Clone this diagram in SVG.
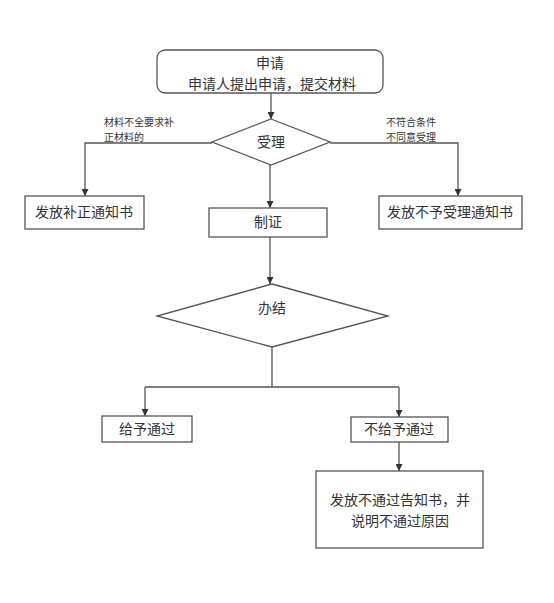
<svg xmlns="http://www.w3.org/2000/svg" width="554" height="603" viewBox="0 0 554 603">
<style>
.s{fill:#fff;stroke:#555;stroke-width:1.3}
.l{fill:none;stroke:#555;stroke-width:1.3}
text{font-family:"Noto Sans CJK SC","Noto Sans",sans-serif;fill:#333;text-anchor:middle}
.t{font-size:14px}
.sm{font-size:10px;text-anchor:start}
</style>
<defs>
<marker id="a" viewBox="0 0 10 10" refX="10" refY="5" markerWidth="7" markerHeight="7" orient="auto" markerUnits="userSpaceOnUse">
<path d="M0,0 L10,5 L0,10 z" fill="#333"/>
</marker>
</defs>
<rect width="554" height="603" fill="#fff"/>
<g id="connectors">
<path class="l" d="M271,93 V119" marker-end="url(#a)"/>
<path class="l" d="M212,143 H85 V196" marker-end="url(#a)"/>
<path class="l" d="M330,143 H458 V196" marker-end="url(#a)"/>
<path class="l" d="M270,165 V208" marker-end="url(#a)"/>
<path class="l" d="M270,237 V284" marker-end="url(#a)"/>
<path class="l" d="M272,347 V387 M145,387 H399"/>
<path class="l" d="M145,387 V416" marker-end="url(#a)"/>
<path class="l" d="M399,387 V417" marker-end="url(#a)"/>
<path class="l" d="M399,442 V471" marker-end="url(#a)"/>
<text class="sm" x="104" y="126">材料不全要求补</text>
<text class="sm" x="104" y="140.5">正材料的</text>
<text class="sm" x="386" y="126">不符合条件</text>
<text class="sm" x="386" y="140.5">不同意受理</text>
</g>
<g id="start">
<rect class="s" x="157" y="50" width="226" height="43" rx="8"/>
<text class="t" x="270" y="68">申请</text>
<text class="t" x="272" y="88.5">申请人提出申请，提交材料</text>
</g>
<g id="accept">
<polygon class="s" points="271,119 330,142 271,165 212,142"/>
<text class="t" x="271" y="147">受理</text>
</g>
<g id="supplement">
<rect class="s" x="25" y="196" width="119" height="33"/>
<text class="t" x="84" y="217">发放补正通知书</text>
</g>
<g id="reject">
<rect class="s" x="379" y="196" width="143" height="33"/>
<text class="t" x="450" y="217">发放不予受理通知书</text>
</g>
<g id="certify">
<rect class="s" x="209" y="208" width="118" height="29"/>
<text class="t" x="268" y="227">制证</text>
</g>
<g id="finish">
<polygon class="s" points="272,284 388,316 272,347 157,316"/>
<text class="t" x="272" y="313">办结</text>
</g>
<g id="pass">
<rect class="s" x="102" y="416" width="90" height="26"/>
<text class="t" x="147" y="434">给予通过</text>
</g>
<g id="nopass">
<rect class="s" x="351" y="417" width="97" height="25"/>
<text class="t" x="399" y="434">不给予通过</text>
</g>
<g id="notice">
<rect class="s" x="316" y="471" width="167" height="77"/>
<text class="t" x="400" y="505">发放不通过告知书，并</text>
<text class="t" x="400" y="525.5">说明不通过原因</text>
</g>
</svg>
